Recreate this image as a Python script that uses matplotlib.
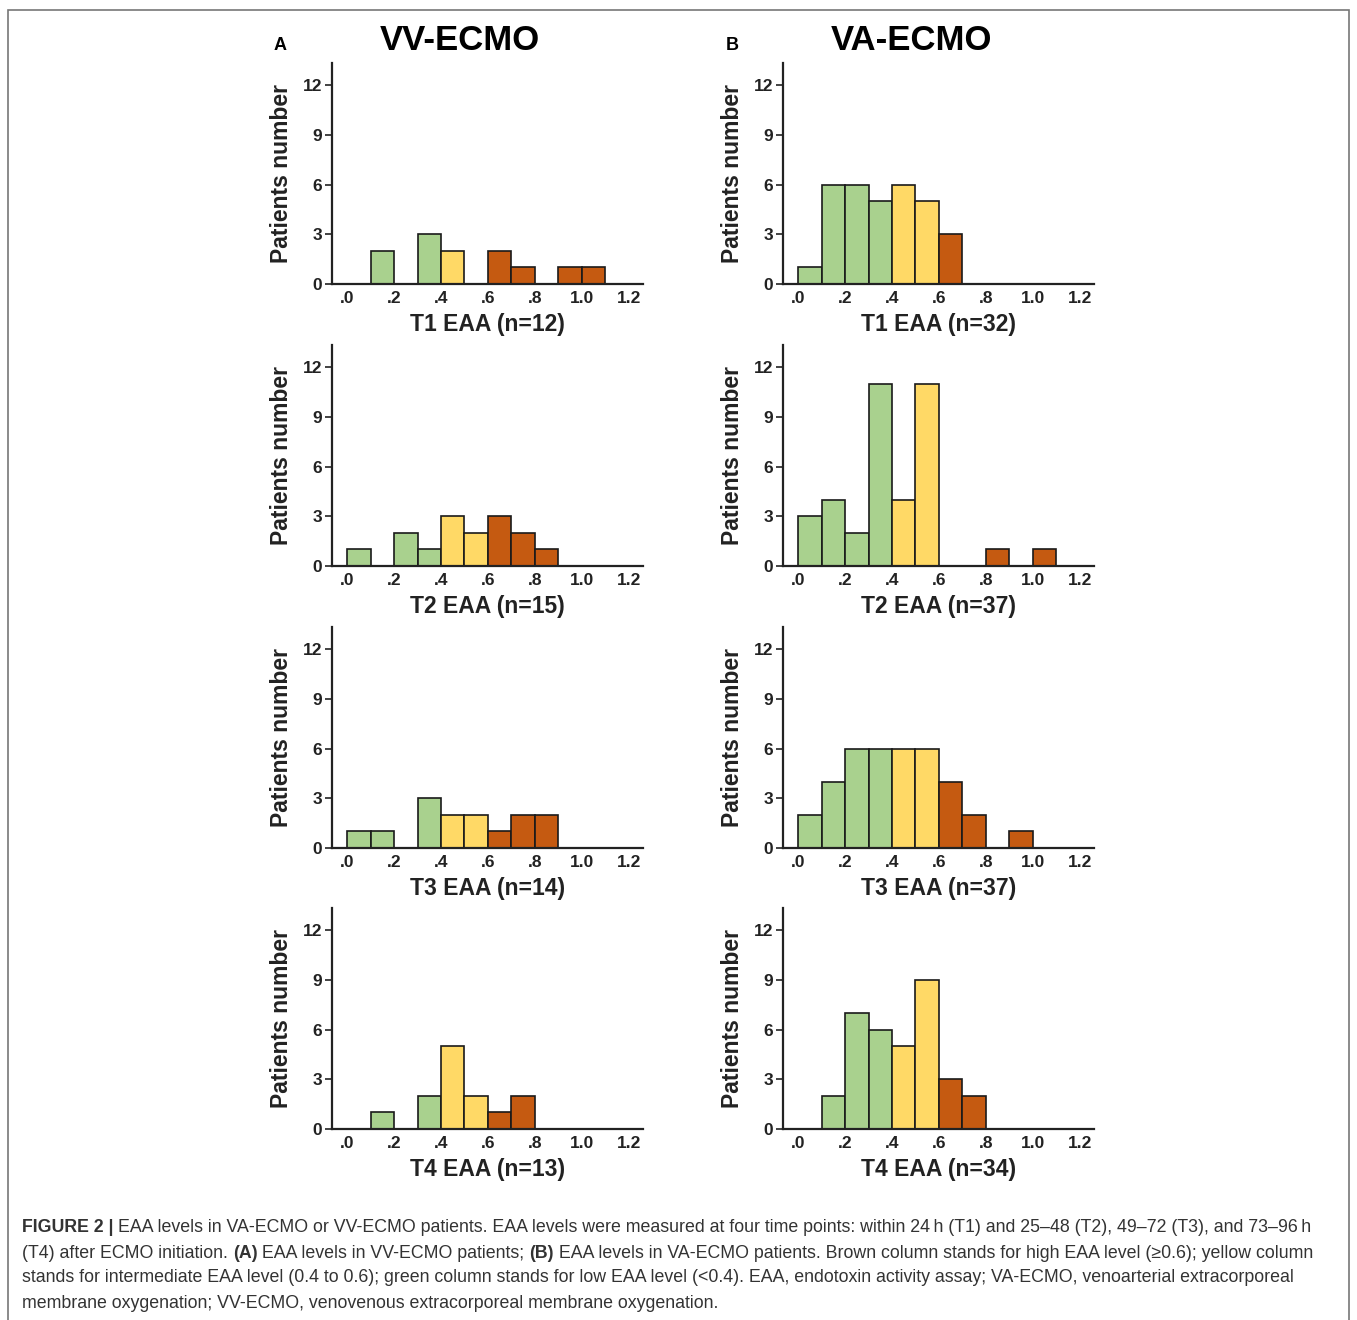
import numpy as np
import matplotlib.pyplot as plt
from matplotlib.patches import Rectangle

plt.rcParams['font.family'] = ['Liberation Sans', 'DejaVu Sans']

# bin edges of EAA (0.0-1.2, width 0.1)
bin_left = [0.0, 0.1, 0.2, 0.3, 0.4, 0.5, 0.6, 0.7, 0.8, 0.9, 1.0, 1.1]
BIN_W = 0.1

# patient counts per bin
vv_t1 = [0, 2, 0, 3, 2, 0, 2, 1, 0, 1, 1, 0]
vv_t2 = [1, 0, 2, 1, 3, 2, 3, 2, 1, 0, 0, 0]
vv_t3 = [1, 1, 0, 3, 2, 2, 1, 2, 2, 0, 0, 0]
vv_t4 = [0, 1, 0, 2, 5, 2, 1, 2, 0, 0, 0, 0]
va_t1 = [1, 6, 6, 5, 6, 5, 3, 0, 0, 0, 0, 0]
va_t2 = [3, 4, 2, 11, 4, 11, 0, 0, 1, 0, 1, 0]
va_t3 = [2, 4, 6, 6, 6, 6, 4, 2, 0, 1, 0, 0]
va_t4 = [0, 2, 7, 6, 5, 9, 3, 2, 0, 0, 0, 0]

vv_labels = ['T1 EAA (n=12)', 'T2 EAA (n=15)', 'T3 EAA (n=14)', 'T4 EAA (n=13)']
va_labels = ['T1 EAA (n=32)', 'T2 EAA (n=37)', 'T3 EAA (n=37)', 'T4 EAA (n=34)']

x_ticks = [0.0, 0.2, 0.4, 0.6, 0.8, 1.0, 1.2]
x_tick_labels = ['.0', '.2', '.4', '.6', '.8', '1.0', '1.2']
y_ticks = [0, 3, 6, 9, 12]

GREEN = '#a9d18e'
YELLOW = '#ffd966'
BROWN = '#c55a11'

W, H = 1357, 1320
fig = plt.figure(figsize=(W / 100, H / 100), dpi=100)


def bin_color(x):
    if x < 0.4 - 1e-9:
        return GREEN
    if x < 0.6 - 1e-9:
        return YELLOW
    return BROWN


def draw_panel(rect, counts, label):
    ax = fig.add_axes(rect)
    colors = [bin_color(b) for b in bin_left]
    for b, c, col in zip(bin_left, counts, colors):
        if c > 0:
            ax.bar(b, c, width=BIN_W, align='edge', color=col,
                   edgecolor='#1a1a1a', linewidth=1.2, zorder=2)
    ax.set_xlim(-0.064, 1.26)
    ax.set_ylim(0, 13.33)
    ax.set_xticks(x_ticks)
    ax.set_xticklabels(x_tick_labels)
    ax.set_yticks(y_ticks)
    for s in ['top', 'right']:
        ax.spines[s].set_visible(False)
    for s in ['left', 'bottom']:
        ax.spines[s].set_linewidth(1.6)
        ax.spines[s].set_color('#222222')
    ax.tick_params(axis='x', length=0, pad=5, labelsize=12.5, labelcolor='#222222')
    ax.tick_params(axis='y', length=5, width=1.2, pad=2, labelsize=12.5,
                   labelcolor='#222222', color='#222222')
    for t in ax.get_xticklabels() + ax.get_yticklabels():
        t.set_fontweight('bold')
    ax.set_xlabel(label, fontsize=16.5, fontweight='bold', color='#222222', labelpad=5)
    ax.set_ylabel('Patients number', fontsize=16.5, fontweight='bold',
                  color='#222222', labelpad=7)
    return ax


left_x = [332, 783]
ax_w = 311
tops = [63, 345, 627, 908]
ax_h = 221
vv_data = [vv_t1, vv_t2, vv_t3, vv_t4]
va_data = [va_t1, va_t2, va_t3, va_t4]

for i in range(4):
    bottom = 1 - (tops[i] + ax_h) / H
    draw_panel([left_x[0] / W, bottom, ax_w / W, ax_h / H], vv_data[i], vv_labels[i])
    draw_panel([left_x[1] / W, bottom, ax_w / W, ax_h / H], va_data[i], va_labels[i])

# column titles and panel letters
fig.text(460 / W, 1 - 41 / H, 'VV-ECMO', fontsize=25, fontweight='bold',
         ha='center', va='center')
fig.text(912 / W, 1 - 41 / H, 'VA-ECMO', fontsize=25, fontweight='bold',
         ha='center', va='center')
fig.text(280 / W, 1 - 45 / H, 'A', fontsize=13, fontweight='bold', ha='center', va='center')
fig.text(732 / W, 1 - 45 / H, 'B', fontsize=13, fontweight='bold', ha='center', va='center')

# frame around the figure
fig.patches.append(Rectangle((8 / W, -0.01), 1341 / W, 1 - 10 / H + 0.01,
                             transform=fig.transFigure, fill=False,
                             edgecolor='#777777', linewidth=1.2))

# caption, drawn piece by piece so bold parts can be inline
caption = [
    [('FIGURE 2 | ', 'bold'), ('EAA levels in VA-ECMO or VV-ECMO patients. EAA levels were measured at four time points: within 24\u2009h (T1) and 25\u201348 (T2), 49\u201372 (T3), and 73\u201396\u2009h', 'normal')],
    [('(T4) after ECMO initiation. ', 'normal'), ('(A)', 'bold'), (' EAA levels in VV-ECMO patients; ', 'normal'), ('(B)', 'bold'), (' EAA levels in VA-ECMO patients. Brown column stands for high EAA level (\u22650.6); yellow column', 'normal')],
    [('stands for intermediate EAA level (0.4 to 0.6); green column stands for low EAA level (<0.4). EAA, endotoxin activity assay; VA-ECMO, venoarterial extracorporeal', 'normal')],
    [('membrane oxygenation; VV-ECMO, venovenous extracorporeal membrane oxygenation.', 'normal')],
]
cap_y = [1228, 1253, 1278, 1303]
renderer = fig.canvas.get_renderer()
for line, yy in zip(caption, cap_y):
    x = 22
    for txt, wt in line:
        t = fig.text(x / W, 1 - yy / H, txt, fontsize=12.8, fontweight=wt,
                     color='#333333', ha='left', va='center')
        bb = t.get_window_extent(renderer)
        x += bb.width

fig.savefig('out.png', dpi=100)
